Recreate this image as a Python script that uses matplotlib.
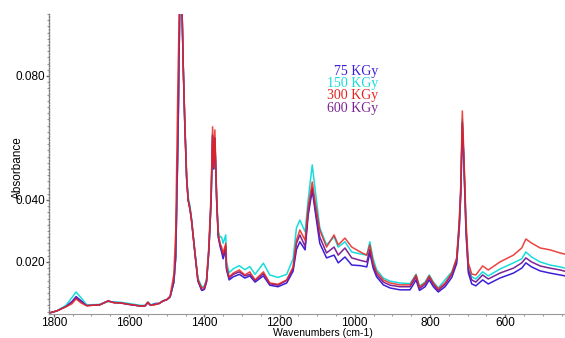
"""
- FTIR spectra of irradiated samples (75 - 600 KGy)
- absorbance vs wavenumber, reversed x axis
"""
import matplotlib

matplotlib.use("Agg")
import matplotlib.pyplot as plt
import numpy as np
from matplotlib.ticker import FixedLocator, MultipleLocator

# wavenumbers (cm-1)
wavenumber = [
    1813, 1792, 1768, 1752, 1741, 1728, 1712, 1700, 1678, 1656, 1640, 1624,
    1600, 1571, 1558, 1550, 1543, 1531, 1520, 1510, 1500, 1491, 1481, 1476,
    1470, 1465, 1462, 1459, 1456, 1452, 1447, 1443, 1438, 1434, 1425, 1417,
    1407, 1400, 1394, 1388, 1382, 1378, 1375, 1372, 1367, 1363, 1358, 1354,
    1350, 1343, 1341, 1334, 1323, 1307, 1292, 1279, 1265, 1243, 1226, 1204,
    1181, 1164, 1155, 1146, 1132, 1124, 1113, 1106, 1093, 1075, 1055, 1044,
    1026, 1008, 985, 968, 960, 951, 942, 924, 906, 880, 853, 837,
    828, 813, 802, 791, 778, 760, 742, 729, 722, 718, 714, 710,
    704, 698, 689, 678, 660, 645, 614, 578, 556, 545, 530, 507,
    481, 454, 441,
]

abs_300 = [
    0.0035, 0.0042, 0.0055, 0.0065, 0.0081, 0.0068, 0.0058, 0.0060, 0.0061, 0.0074, 0.0068, 0.0068,
    0.0063, 0.0058, 0.0058, 0.0070, 0.0060, 0.0062, 0.0066, 0.0074, 0.0078, 0.0090, 0.0160, 0.0300,
    0.0800, 0.1100, 0.1120, 0.1000, 0.0830, 0.0650, 0.0470, 0.0400, 0.0370, 0.0335, 0.0229, 0.0142,
    0.0116, 0.0118, 0.0142, 0.0250, 0.0420, 0.0636, 0.0506, 0.0626, 0.0400, 0.0290, 0.0260, 0.0248,
    0.0229, 0.0260, 0.0185, 0.0152, 0.0164, 0.0174, 0.0158, 0.0168, 0.0142, 0.0168, 0.0132, 0.0128,
    0.0142, 0.0184, 0.0270, 0.0303, 0.0270, 0.0377, 0.0458, 0.0400, 0.0303, 0.0248, 0.0287, 0.0255,
    0.0277, 0.0248, 0.0232, 0.0222, 0.0255, 0.0197, 0.0168, 0.0142, 0.0132, 0.0126, 0.0126, 0.0158,
    0.0119, 0.0132, 0.0155, 0.0132, 0.0113, 0.0132, 0.0164, 0.0213, 0.0335, 0.0450, 0.0687, 0.0550,
    0.0326, 0.0197, 0.0161, 0.0158, 0.0187, 0.0174, 0.0200, 0.0222, 0.0245, 0.0274, 0.0261, 0.0245,
    0.0239, 0.0229, 0.0225,
]

abs_150 = [
    0.0035, 0.0042, 0.0060, 0.0085, 0.0103, 0.0085, 0.0060, 0.0062, 0.0063, 0.0072, 0.0071, 0.0070,
    0.0066, 0.0060, 0.0060, 0.0070, 0.0062, 0.0064, 0.0067, 0.0075, 0.0079, 0.0087, 0.0135, 0.0216,
    0.0600, 0.1050, 0.1100, 0.1000, 0.0830, 0.0660, 0.0480, 0.0410, 0.0380, 0.0340, 0.0235, 0.0148,
    0.0120, 0.0122, 0.0145, 0.0240, 0.0400, 0.0610, 0.0500, 0.0600, 0.0400, 0.0300, 0.0280, 0.0280,
    0.0260, 0.0287, 0.0200, 0.0165, 0.0178, 0.0188, 0.0175, 0.0185, 0.0160, 0.0196, 0.0158, 0.0150,
    0.0160, 0.0210, 0.0310, 0.0335, 0.0297, 0.0400, 0.0513, 0.0440, 0.0310, 0.0255, 0.0281, 0.0248,
    0.0265, 0.0232, 0.0226, 0.0222, 0.0265, 0.0210, 0.0175, 0.0148, 0.0138, 0.0132, 0.0130, 0.0160,
    0.0122, 0.0135, 0.0158, 0.0135, 0.0116, 0.0142, 0.0168, 0.0210, 0.0330, 0.0440, 0.0660, 0.0540,
    0.0310, 0.0185, 0.0152, 0.0145, 0.0168, 0.0155, 0.0177, 0.0197, 0.0210, 0.0232, 0.0216, 0.0200,
    0.0190, 0.0184, 0.0180,
]

abs_600 = [
    0.0035, 0.0042, 0.0056, 0.0070, 0.0084, 0.0072, 0.0059, 0.0060, 0.0062, 0.0074, 0.0069, 0.0068,
    0.0063, 0.0058, 0.0058, 0.0070, 0.0060, 0.0063, 0.0066, 0.0074, 0.0078, 0.0087, 0.0135, 0.0216,
    0.0600, 0.1050, 0.1100, 0.1000, 0.0830, 0.0650, 0.0470, 0.0400, 0.0370, 0.0335, 0.0229, 0.0140,
    0.0110, 0.0113, 0.0138, 0.0235, 0.0395, 0.0610, 0.0500, 0.0600, 0.0395, 0.0285, 0.0255, 0.0240,
    0.0220, 0.0250, 0.0180, 0.0148, 0.0160, 0.0168, 0.0155, 0.0160, 0.0140, 0.0162, 0.0130, 0.0125,
    0.0140, 0.0178, 0.0260, 0.0287, 0.0250, 0.0360, 0.0439, 0.0380, 0.0280, 0.0229, 0.0248, 0.0222,
    0.0245, 0.0213, 0.0205, 0.0200, 0.0240, 0.0190, 0.0160, 0.0135, 0.0125, 0.0120, 0.0120, 0.0152,
    0.0114, 0.0128, 0.0150, 0.0128, 0.0108, 0.0128, 0.0160, 0.0205, 0.0320, 0.0430, 0.0650, 0.0530,
    0.0300, 0.0175, 0.0142, 0.0135, 0.0158, 0.0145, 0.0164, 0.0180, 0.0197, 0.0213, 0.0200, 0.0187,
    0.0180, 0.0174, 0.0170,
]

abs_75 = [
    0.0035, 0.0042, 0.0057, 0.0072, 0.0088, 0.0075, 0.0060, 0.0061, 0.0062, 0.0074, 0.0069, 0.0068,
    0.0063, 0.0058, 0.0058, 0.0068, 0.0060, 0.0066, 0.0066, 0.0074, 0.0078, 0.0087, 0.0135, 0.0216,
    0.0600, 0.1050, 0.1100, 0.1000, 0.0830, 0.0650, 0.0470, 0.0400, 0.0370, 0.0335, 0.0229, 0.0138,
    0.0108, 0.0111, 0.0136, 0.0235, 0.0395, 0.0605, 0.0500, 0.0595, 0.0390, 0.0280, 0.0250, 0.0232,
    0.0210, 0.0240, 0.0175, 0.0142, 0.0152, 0.0160, 0.0148, 0.0155, 0.0135, 0.0155, 0.0125, 0.0120,
    0.0132, 0.0170, 0.0240, 0.0265, 0.0239, 0.0350, 0.0432, 0.0370, 0.0260, 0.0213, 0.0222, 0.0197,
    0.0216, 0.0190, 0.0188, 0.0184, 0.0230, 0.0180, 0.0152, 0.0126, 0.0116, 0.0110, 0.0110, 0.0142,
    0.0108, 0.0120, 0.0142, 0.0120, 0.0103, 0.0120, 0.0150, 0.0195, 0.0310, 0.0420, 0.0640, 0.0520,
    0.0290, 0.0165, 0.0129, 0.0123, 0.0142, 0.0129, 0.0148, 0.0164, 0.0180, 0.0197, 0.0184, 0.0171,
    0.0164, 0.0158, 0.0155,
]

doses = ["75 KGy", "150 KGy", "300 KGy", "600 KGy"]
colors = {"75 KGy": "#3b1fd8", "150 KGy": "#18dcdc", "300 KGy": "#e8231f", "600 KGy": "#7d2394"}

plt.rcParams["font.family"] = ["Liberation Sans", "DejaVu Sans"]

fig = plt.figure(figsize=(5.65, 3.38), dpi=100)
ax = fig.add_axes([0.0867, 0.071, 0.9133, 0.8876])

w = np.array(wavenumber)
ax.plot(w, abs_75, color=colors["75 KGy"], lw=1.1)
ax.plot(w, abs_150, color=colors["150 KGy"], lw=1.1)
ax.plot(w, abs_600, color=colors["600 KGy"], lw=1.1)
ax.plot(w, abs_300, color=colors["300 KGy"], lw=1.1, alpha=0.85)

ax.set_xlim(1813, 441)
ax.set_ylim(0.0032, 0.1)

ax.xaxis.set_major_locator(FixedLocator([1800, 1600, 1400, 1200, 1000, 800, 600]))
ax.xaxis.set_minor_locator(MultipleLocator(50))
ax.yaxis.set_major_locator(FixedLocator([0.02, 0.04, 0.08]))
ax.yaxis.set_minor_locator(MultipleLocator(0.002))
ax.yaxis.set_major_formatter(plt.FuncFormatter(lambda v, p: f"{v:.3f}"))

for side in ["top", "right"]:
    ax.spines[side].set_visible(False)
ax.spines["left"].set_color("#777777")
ax.spines["left"].set_linestyle((0, (1, 1.2)))
ax.spines["left"].set_linewidth(1.0)
ax.spines["bottom"].set_color("#999999")
ax.spines["bottom"].set_linewidth(0.8)

ax.tick_params(axis="y", which="major", labelsize=8.5, length=2, width=1, color="#666666", pad=1)
ax.tick_params(axis="x", which="major", labelsize=8.5, length=2, width=1, color="#666666", pad=0)
ax.tick_params(axis="both", which="minor", length=1.5, width=0.8, color="#999999")

# the reference draws Absorbance over the 0.040 label, keep that look
fig.text(0.032, 1 - 168 / 338, "Absorbance", rotation=90, ha="center", va="center", fontsize=8.5)
fig.text(323 / 565, 0.001, "Wavenumbers (cm-1)", ha="center", va="bottom", fontsize=7.5)

# coloured dose labels, right aligned
for i, d in enumerate(doses):
    fig.text(378 / 565, 1 - (72 + 12 * i) / 338, d, color=colors[d], ha="right", va="center",
             fontsize=10, family=["Liberation Serif", "DejaVu Serif"])

fig.savefig("out.png", dpi=100)
